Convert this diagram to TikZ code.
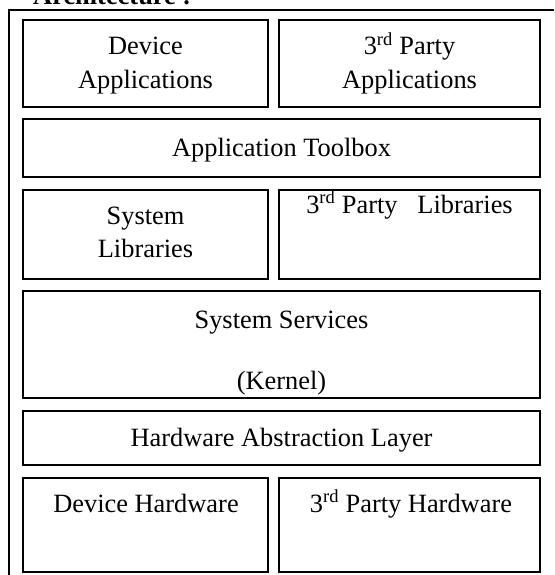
\documentclass[tikz,border=0pt]{standalone}
\usepackage{fontspec}
\setmainfont{Liberation Serif}
\begin{document}
\begin{tikzpicture}[x=1pt,y=-1pt,
  box/.style={draw, line width=2pt, inner sep=0pt, minimum width=#1},
  txt/.style={anchor=base, inner sep=0pt, font=\fontsize{26.4}{32}\selectfont},
  frame/.style={line width=2pt}]
\useasboundingbox (0,0) rectangle (554,575);
\clip (0,0) rectangle (554,575);
% outer frame and title
\coordinate (ftr) at (554,10);
\coordinate (ftl) at (9,10);
\coordinate (fbl) at (9,575);
\draw[frame] (ftr) -- (ftl) -- (fbl);
\node[txt, anchor=base west, font=\fontsize{26.4}{32}\selectfont\bfseries] (title) at (33,5) {Architecture :};
% boxes
\node[box=245pt, minimum height=87pt] (devapp) at (145.5,63.5) {};
\node[box=261pt, minimum height=87pt] (tpapp) at (409.5,63.5) {};
\node[box=517pt, minimum height=58pt] (toolbox) at (281.5,148) {};
\node[box=245pt, minimum height=89pt] (syslib) at (145.5,234.5) {};
\node[box=261pt, minimum height=89pt] (tplib) at (409.5,234.5) {};
\node[box=517pt, minimum height=107pt] (syssrv) at (281.5,344.5) {};
\node[box=517pt, minimum height=54pt] (hal) at (281.5,438) {};
\node[box=245pt, minimum height=94pt] (devhw) at (145.5,525) {};
\node[box=261pt, minimum height=94pt] (tphw) at (409.5,525) {};
% texts
\node[txt] (t1) at (145.5,55) {Device};
\node[txt] (t2) at (145.5,89) {Applications};
\node[txt] (t3) at (409.5,55) {3\textsuperscript{rd} Party};
\node[txt] (t4) at (409.5,89) {Applications};
\node[txt] (t5) at (281.5,156) {Application Toolbox};
\node[txt] (t6) at (145.5,224) {System};
\node[txt] (t7) at (145.5,257) {Libraries};
\node[txt] (t8) at (409.5,213) {3\textsuperscript{rd} Party\ \ \ Libraries};
\node[txt] (t9) at (281.5,328) {System Services};
\node[txt] (t10) at (281.5,389) {(Kernel)};
\node[txt] (t11) at (281.5,446) {Hardware Abstraction Layer};
\node[txt] (t12) at (146,512) {Device Hardware};
\node[txt] (t13) at (411,512) {3\textsuperscript{rd} Party Hardware};
\end{tikzpicture}
\end{document}
